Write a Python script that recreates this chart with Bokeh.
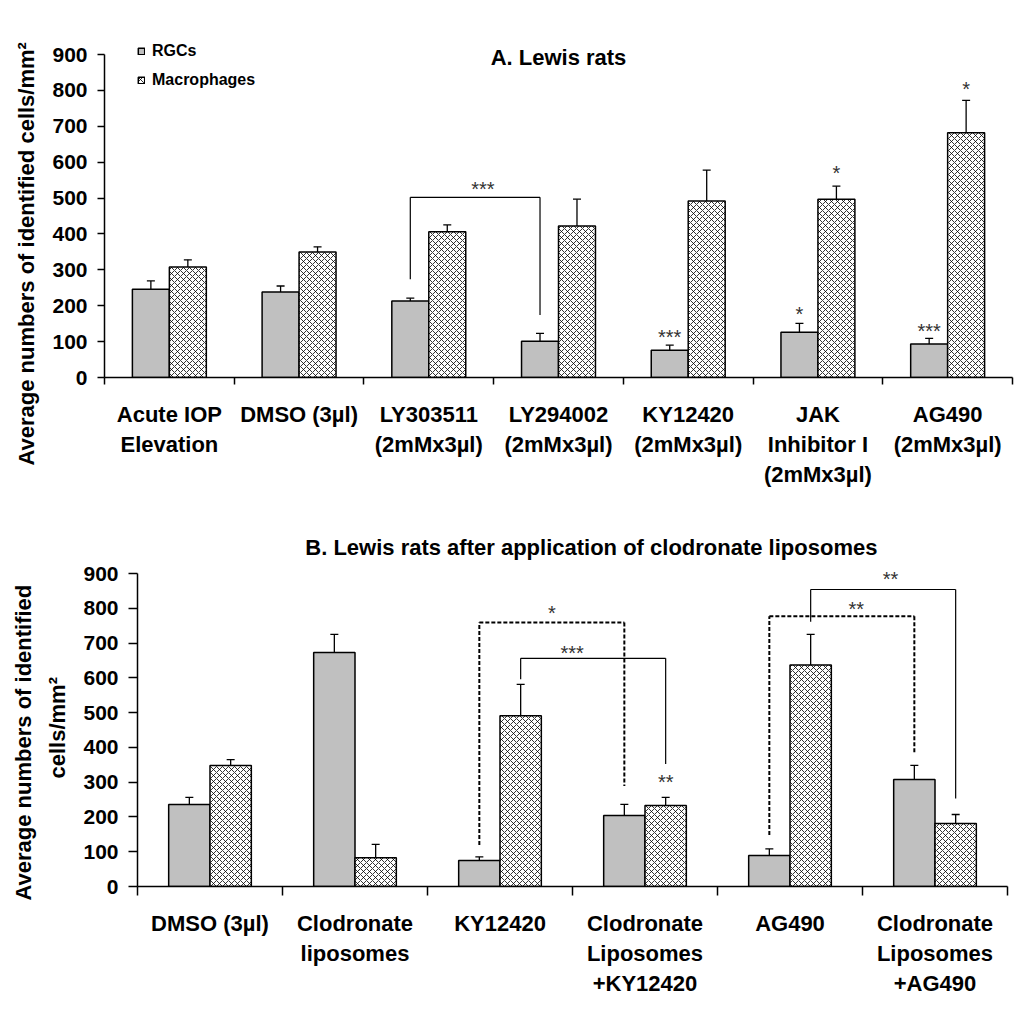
import numpy as np
from bokeh.plotting import figure
from bokeh.models import (ColumnDataSource, Range1d, LinearAxis, FixedTicker, Whisker, TeeHead,
                          Label, Legend, LegendItem, Title)
from bokeh.core.properties import value
from bokeh.embed import file_html
from bokeh.resources import INLINE

# ---------------- data ----------------
y_ticks = [0, 100, 200, 300, 400, 500, 600, 700, 800, 900]
series_names = ["RGCs", "Macrophages"]

# Panel A
labels_a = ["Acute IOP\nElevation", "DMSO (3µl)", "LY303511\n(2mMx3µl)", "LY294002\n(2mMx3µl)",
            "KY12420\n(2mMx3µl)", "JAK\nInhibitor I\n(2mMx3µl)", "AG490\n(2mMx3µl)"]
rgc_a = [246, 238, 213, 101, 76, 126, 93]
rgc_a_err = [23, 17, 8, 22, 14, 25, 16]
mac_a = [308, 350, 406, 422, 492, 497, 682]
mac_a_err = [20, 14, 19, 75, 86, 36, 90]
# significance marks over single bars: (series, category index, text, y)
marks_a = [("rgc", 4, "***", 124), ("rgc", 5, "*", 189), ("mac", 5, "*", 581),
           ("rgc", 6, "***", 142), ("mac", 6, "*", 815)]
# brackets: (series, cat a, cat b, top y, leg a bottom, leg b bottom, text, text y, dashed, text dx)
brackets_a = [("rgc", 2, 3, 502, 274, 174, "***", 537, False, 0.06)]

# Panel B
labels_b = ["DMSO (3µl)", "Clodronate\nliposomes", "KY12420", "Clodronate\nLiposomes\n+KY12420",
            "AG490", "Clodronate\nLiposomes\n+AG490"]
rgc_b = [236, 673, 75, 204, 89, 308]
rgc_b_err = [20, 52, 10, 32, 19, 40]
mac_b = [348, 83, 491, 233, 637, 181]
mac_b_err = [17, 38, 90, 23, 88, 26]
marks_b = [("mac", 3, "**", 312)]
brackets_b = [("rgc", 2, 3, 759, 119, 289, "*", 799, True, 0.0),
              ("mac", 2, 3, 656, 596, 352, "***", 684, False, -0.145),
              ("rgc", 4, 5, 777, 148, 385, "**", 809, True, 0.10),
              ("mac", 4, 5, 854, 761, 253, "**", 897, False, 0.05)]

FONT = "Liberation Sans"
GRAY = "#c0c0c0"
BW = 0.285
OFF = {"rgc": -BW / 2, "mac": BW / 2}


def make_panel(labels, rgc, rgc_err, mac, mac_err, marks, brackets,
               height, borders, frame_h, axis_h, tick_out, lab_standoff, legend=False):
    n = len(labels)
    left, right, top = borders
    bottom = height - top - frame_h
    y_end = 900.0 * frame_h / axis_h     # room above the 900 line for title/legend
    p = figure(width=1017, height=height, x_range=Range1d(0, n), y_range=Range1d(0, y_end),
               x_axis_location=None, output_backend="svg", toolbar_location=None,
               min_border_left=left, min_border_right=right, min_border_top=top,
               min_border_bottom=bottom)
    p.outline_line_color = None
    p.grid.visible = False
    p.background_fill_color = "white"
    p.border_fill_color = "white"

    # y axis
    ya = p.yaxis[0]
    ya.bounds = (0, 900)
    ya.ticker = FixedTicker(ticks=y_ticks, minor_ticks=[])
    ya.major_label_text_font = FONT
    ya.major_label_text_font_style = "bold"
    ya.major_label_text_font_size = "21px"
    ya.major_label_text_color = "black"
    ya.major_label_standoff = 10
    ya.major_tick_in = 0
    ya.major_tick_out = tick_out
    ya.minor_tick_line_color = None
    ya.axis_line_width = 1.5
    ya.major_tick_line_width = 1.5

    # x axis: line + ticks at category boundaries
    bticks = list(range(n + 1))
    ax_line = LinearAxis(ticker=FixedTicker(ticks=bticks, minor_ticks=[]),
                         major_label_overrides={t: "" for t in bticks},
                         major_label_text_font_size="1px", major_label_standoff=0,
                         major_tick_in=0, major_tick_out=tick_out, minor_tick_line_color=None,
                         axis_line_width=1.5, major_tick_line_width=1.5)
    p.add_layout(ax_line, "below")
    centers = [i + 0.5 for i in range(n)]
    ax_lab = LinearAxis(ticker=FixedTicker(ticks=centers, minor_ticks=[]),
                        axis_line_color=None, major_tick_line_color=None,
                        minor_tick_line_color=None,
                        major_label_overrides={c: l for c, l in zip(centers, labels)},
                        major_label_text_font=FONT, major_label_text_font_style="bold",
                        major_label_text_font_size="22px", major_label_text_color="black",
                        major_label_standoff=lab_standoff)
    p.add_layout(ax_lab, "below")

    rgc = np.array(rgc, dtype=float)
    mac = np.array(mac, dtype=float)
    xc = np.arange(n) + 0.5
    src = ColumnDataSource(dict(x_rgc=xc + OFF["rgc"], x_mac=xc + OFF["mac"],
                                rgc=rgc, rgc_hi=rgc + np.array(rgc_err),
                                mac=mac, mac_hi=mac + np.array(mac_err)))
    r1 = p.vbar(x="x_rgc", top="rgc", width=BW, source=src,
                fill_color=GRAY, line_color="black", line_width=1.5)
    r2 = p.vbar(x="x_mac", top="mac", width=BW, source=src,
                fill_color="white", line_color="black", line_width=1.5,
                hatch_pattern="diagonal_cross", hatch_scale=6, hatch_weight=0.8, hatch_color="black")
    for s in ("rgc", "mac"):
        w = Whisker(base="x_" + s, lower=s, upper=s + "_hi", source=src,
                    dimension="height", line_color="black", line_width=1.3,
                    upper_head=TeeHead(size=8, line_color="black", line_width=1.3), lower_head=None)
        p.add_layout(w)

    # brackets
    seg = {False: dict(x0=[], y0=[], x1=[], y1=[]), True: dict(x0=[], y0=[], x1=[], y1=[])}
    tx, ty, tt = [], [], []
    for (s, a, b, topy, loa, lob, txt, yt, dashed, dx) in brackets:
        xa = a + 0.5 + OFF[s]
        xb = b + 0.5 + OFF[s]
        d = seg[dashed]
        for (x0, y0, x1, y1) in [(xa, loa, xa, topy), (xa, topy, xb, topy), (xb, topy, xb, lob)]:
            d["x0"].append(x0); d["y0"].append(y0); d["x1"].append(x1); d["y1"].append(y1)
        tx.append((xa + xb) / 2 + dx); ty.append(yt); tt.append(txt)
    if seg[False]["x0"]:
        p.segment(x0="x0", y0="y0", x1="x1", y1="y1", source=ColumnDataSource(seg[False]),
                  line_color="black", line_width=1.2)
    if seg[True]["x0"]:
        p.segment(x0="x0", y0="y0", x1="x1", y1="y1", source=ColumnDataSource(seg[True]),
                  line_color="black", line_width=2, line_dash="4 2")
    for (s, i, txt, yt) in marks:
        tx.append(i + 0.5 + OFF[s]); ty.append(yt); tt.append(txt)
    p.text(x=tx, y=ty, text=tt, text_align="center", text_baseline="middle",
           y_offset=4, text_font=value(FONT), text_font_size="20px", text_color="#333333")

    if legend:
        lg = Legend(items=[LegendItem(label=series_names[0], renderers=[r1]),
                           LegendItem(label=series_names[1], renderers=[r2])],
                    location=(33, 288), orientation="vertical", padding=0, margin=0,
                    spacing=11, glyph_width=8, glyph_height=8, label_height=16,
                    label_standoff=7, label_text_font=FONT, label_text_font_style="bold",
                    label_text_font_size="16px", label_text_color="black",
                    border_line_color=None, background_fill_alpha=0)
        p.add_layout(lg)
    return p


def ytitle(text, offset, standoff):
    return Title(text=text, align="left", offset=offset, text_font=FONT, text_font_style="bold",
                 text_font_size="22px", text_color="black", standoff=standoff)


# panel A: frame 104..1012 x, 900-line at y=54, zero at y=377
p1 = make_panel(labels_a, rgc_a, rgc_a_err, mac_a, mac_a_err, marks_a, brackets_a,
                508, (104, 5, 31), 346, 323, 7, 11, legend=True)
p1.add_layout(Label(x=3.5, y=892, text="A. Lewis rats", text_align="center",
                    text_baseline="middle", text_font=FONT, text_font_style="bold",
                    text_font_size="22px", text_color="black"))
p1.add_layout(ytitle("Average numbers of identified cells/mm²", -88, 22), "left")

# panel B: frame 137..1007 x, 900-line at y=573-508, zero at y=886-508
p2 = make_panel(labels_b, rgc_b, rgc_b_err, mac_b, mac_b_err, marks_b, brackets_b,
                507, (137, 10, 26), 352, 313, 9, 9)
p2.add_layout(Label(x=3.13, y=975,
                    text="B. Lewis rats after application of clodronate liposomes",
                    text_align="center", text_baseline="middle", text_font=FONT,
                    text_font_style="bold", text_font_size="22px", text_color="black"))
p2.add_layout(ytitle("cells/mm²", 108, 22), "left")
p2.add_layout(ytitle("Average numbers of identified", -14, -8), "left")

open("out.html", "w").write(file_html([p1, p2], INLINE))
